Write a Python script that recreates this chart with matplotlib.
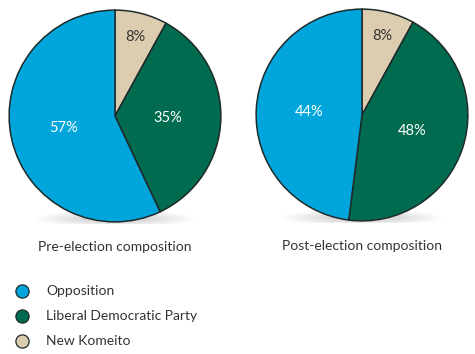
import matplotlib
matplotlib.use("Agg")
import matplotlib.pyplot as plt
from matplotlib.lines import Line2D
from matplotlib.patches import Ellipse
import numpy as np

plt.rcParams['font.family'] = ['Lato', 'DejaVu Sans']

parties = ["New Komeito", "Liberal Democratic Party", "Opposition"]
colors = ["#dccdb0", "#006b4f", "#00a6db"]

# wedge sizes as drawn, and the labels as printed on them
pre_sizes = [8, 35, 57]
pre_labels = ["8%", "35%", "57%"]
post_sizes = [8, 44, 48]
post_labels = ["8%", "48%", "44%"]
titles = ["Pre-election composition", "Post-election composition"]

W, H = 475, 354
fig = plt.figure(figsize=(W / 100, H / 100), dpi=100)

def pie_axes(cx, cy, r):
    return fig.add_axes([(cx - r) / W, 1 - (cy + r) / H, 2 * r / W, 2 * r / H])

def draw_pie(ax, sizes, labels, title):
    # faint blurred shadow under the pie
    for i in range(14):
        ax.add_patch(Ellipse((0.0, -0.97), 1.5 - i * 0.07, 0.16 - i * 0.009,
                             color="black", alpha=0.01, lw=0, zorder=0))
    wedges, _ = ax.pie(sizes, colors=colors, startangle=90, counterclock=False,
                       wedgeprops=dict(edgecolor="#1f2a2a", linewidth=1.1),
                       radius=1)
    for w, lab in zip(wedges, labels):
        mid = np.deg2rad((w.theta1 + w.theta2) / 2)
        d = 0.77 if (w.theta2 - w.theta1) < 40 else 0.5
        tc = "#333333" if w.get_facecolor()[0] > 0.7 else "white"
        ax.text(d * np.cos(mid), d * np.sin(mid), lab, ha="center", va="center",
                fontsize=10.5, color=tc)
    ax.set_xlim(-1.02, 1.02)
    ax.set_ylim(-1.02, 1.02)
    ax.set_aspect("equal")
    ax.axis("off")
    ax.text(0, -1.24, title, ha="center", va="center", fontsize=10, color="#333333")

ax1 = pie_axes(115, 116, 108)
ax2 = pie_axes(362, 115, 108)
draw_pie(ax1, pre_sizes, pre_labels, titles[0])
draw_pie(ax2, post_sizes, post_labels, titles[1])

# legend
for k, i in enumerate([2, 1, 0]):
    y = 1 - (291 + 25 * k) / H
    fig.add_artist(Line2D([22 / W], [y], marker="o", ls="", markersize=9.5,
                          markerfacecolor=colors[i], markeredgecolor="#1f2a2a",
                          markeredgewidth=0.9, transform=fig.transFigure))
    fig.text(46 / W, y, parties[i], ha="left", va="center", fontsize=10,
             color="#333333")

fig.savefig("out.png", dpi=100, facecolor="white")
